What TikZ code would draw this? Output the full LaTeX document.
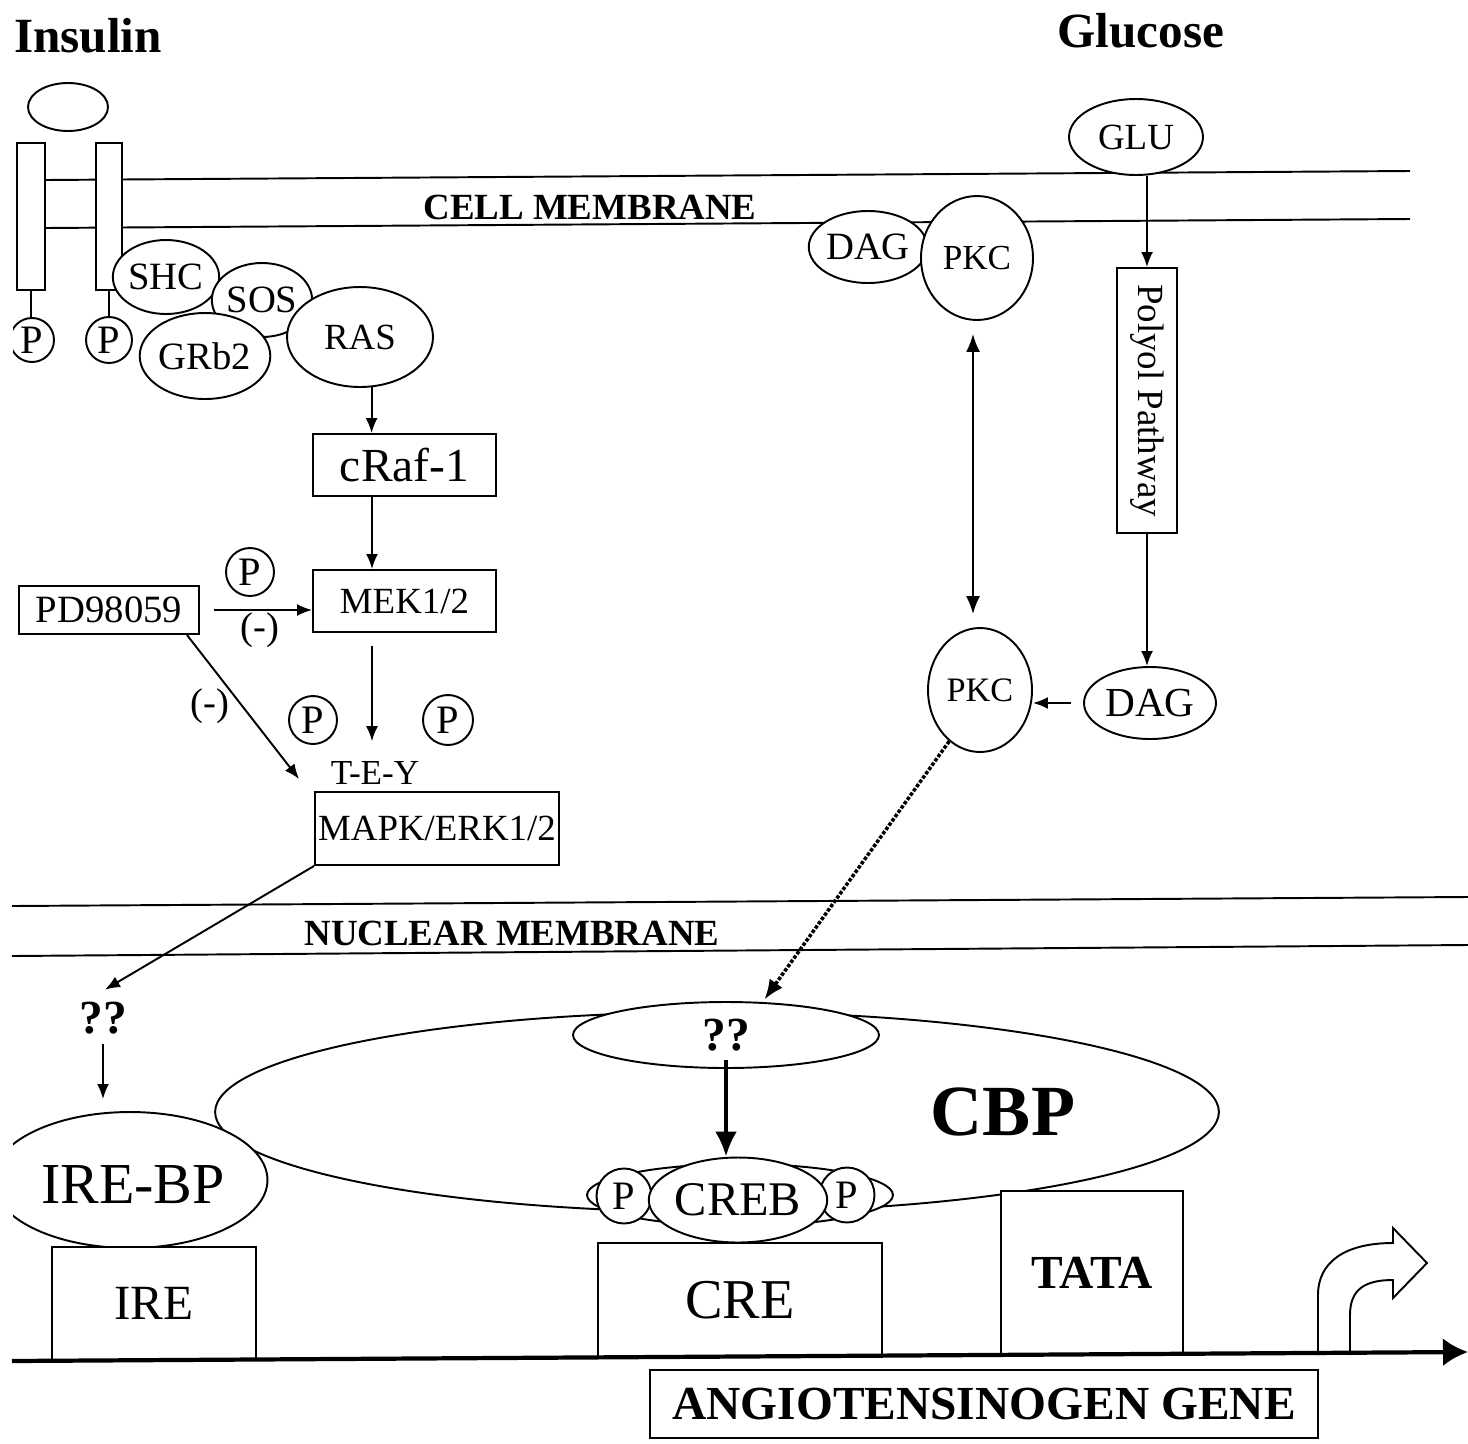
\documentclass[tikz,border=0pt]{standalone}
\usepackage{fontspec}
\setmainfont{Liberation Serif}
\usepackage{tikz}
\usetikzlibrary{shapes,arrows.meta,positioning,calc}
\newcommand{\fsz}[1]{\fontsize{#1}{#1}\selectfont}

\begin{document}
\begin{tikzpicture}[
    x=0.02cm, y=-0.02cm,
    every node/.style={inner sep=0pt, font=\fsz{21}},
    % molecules and boxes
    mol/.style={ellipse, draw, fill=white, line width=1.1pt},
    pbox/.style={rectangle, draw, fill=white, line width=1.1pt},
    phos/.style={circle, draw, fill=white, line width=1.1pt, minimum size=0.96cm, font=\fsz{23}},
    recep/.style={rectangle, draw, fill=white, line width=1.1pt, minimum height=2.94cm},
    title/.style={font=\bfseries\fsz{28}},
    memtext/.style={font=\bfseries\fsz{21}},
    memline/.style={line width=1.1pt},
    % connectors
    arr/.style={-{Latex[length=0.3cm,width=0.24cm]}, line width=1.1pt},
    dblarr/.style={{Latex[length=0.36cm,width=0.28cm]}-{Latex[length=0.36cm,width=0.28cm]}, line width=1.1pt},
    bigarr/.style={-{Latex[length=0.5cm,width=0.44cm]}, line width=2.2pt},
    dotarr/.style={-{Latex[length=0.4cm,width=0.32cm]}, line width=2pt, densely dotted},
    genearr/.style={-{Latex[length=0.5cm,width=0.56cm]}, line width=2.4pt}
]
\useasboundingbox (0,0) rectangle (1468,1444);

% Titles
\node[title] (insulin) at (88,36) {Insulin};
\node[title] (glucose) at (1141,31) {Glucose};

% Membranes
\draw[memline] (45,180) -- (1410,171);
\draw[memline] (45,228) -- (1410,219);
\node[memtext] (cellmem) at (590,207) {CELL MEMBRANE};
\draw[memline] (12,906) -- (1468,897);
\draw[memline] (12,956) -- (1468,945);
\node[memtext] (nucmem) at (512,933) {NUCLEAR MEMBRANE};

% Insulin receptor
\node[mol, minimum width=1.6cm, minimum height=0.96cm] (ligand) at (68,107) {};
\node[recep, minimum width=0.56cm] (rec1) at (31,216.5) {};
\node[recep, minimum width=0.52cm] (rec2) at (109,216.5) {};
\begin{scope}
    \clip (13,0) rectangle (1468,1444);
    \node[phos, minimum size=0.88cm] (p1) at (32,340) {P};
\end{scope}
\node[phos, minimum size=0.92cm] (p2) at (109,340) {P};
\draw[memline] (rec1.south) -- (rec1.south |- p1.north);
\draw[memline] (rec2.south) -- (rec2.south |- p2.north);

% Adaptor proteins
\node[mol, minimum width=1.72cm, minimum height=1.48cm, font=\fsz{22}] (shc) at (166,277) {SHC};
\node[mol, minimum width=1.52cm, minimum height=1.48cm, font=\fsz{22}] (sos) at (262,300) {SOS};
\node[mol, minimum width=2.28cm, minimum height=1.72cm, font=\fsz{22}] (grb2) at (205,356) {GRb2};
\node[mol, minimum width=2.92cm, minimum height=2.0cm] (ras) at (360,337) {RAS};

% MAPK cascade
\coordinate (col) at (372,0);
\node[pbox, minimum width=3.66cm, minimum height=1.24cm, font=\fsz{27}] (craf) at (404.5,465) {cRaf-1};
\node[pbox, minimum width=3.66cm, minimum height=1.24cm] (mek) at (404.5,601) {MEK1/2};
\node[pbox, minimum width=3.6cm, minimum height=0.96cm, font=\fsz{22}] (pd) at (109,610) {PD98059};
\node[phos] (pm) at (250,572) {P};
\node[font=\fsz{22}] (minus1) at (260,630) {(-)};
\node[font=\fsz{22}] (minus2) at (210,706) {(-)};
\node[phos] (pk1) at (313,720) {P};
\node[phos, minimum size=1.0cm] (pk2) at (448,720) {P};
\node[font=\fsz{20}] (tey) at (375,773) {T-E-Y};
\node[pbox, minimum width=4.88cm, minimum height=1.46cm] (mapk) at (437,828.5) {MAPK/ERK1/2};

\draw[arr] (ras.-77) -- (ras.-77 |- craf.north);
\draw[arr] (craf.south -| col) -- (mek.north -| col);
\draw[arr, shorten <=0.26cm, shorten >=0.4cm] (mek.south -| col) -- (tey.north -| col);
\draw[arr, shorten <=0.28cm] (pd.east) -- (pd.east -| mek.west);
\draw[arr] ($(pd.south east)+(-13,0)$) -- ($(mapk.north west)+(-15,-12)$);

% Glucose branch
\node[mol, minimum width=2.68cm, minimum height=1.52cm] (glu) at (1136,137) {GLU};
\node[pbox, minimum width=1.2cm, minimum height=5.3cm] (polybox) at (1147,400.5) {};
\node[rotate=-90] (polytext) at (polybox) {Polyol Pathway};
\node[mol, minimum width=2.64cm, minimum height=1.44cm, font=\fsz{23.5}] (dag2) at (1150,703) {DAG};
\node[mol, minimum width=2.08cm, minimum height=2.48cm, font=\fsz{19.5}] (pkc2) at (980,690) {PKC};
\node[mol, minimum width=2.12cm, minimum height=1.44cm, font=\fsz{22}] (dag1) at (868,247) {DAG};
\node[mol, minimum width=2.24cm, minimum height=2.48cm, font=\fsz{20}] (pkc1) at (977,258) {PKC};
\coordinate (col2) at (973,0);

\draw[arr] (glu.south -| polybox) -- (polybox.north);
\draw[arr] (polybox.south) -- (polybox.south |- dag2.north);
\draw[arr, shorten <=0.24cm] (dag2.west) -- (dag2.west -| pkc2.east);
\draw[dblarr, shorten <=0.26cm, shorten >=0.26cm] (pkc1.south -| col2) -- (pkc2.north -| col2);

% Nucleus
\node[mol, minimum width=20.08cm, minimum height=4.0cm] (cbp) at (717,1112) {};
\node[font=\bfseries\fsz{41}] (cbptext) at (1003,1112) {CBP};
\node[mol, minimum width=6.12cm, minimum height=1.32cm, font=\bfseries\fsz{27}] (qq2) at (726,1035) {??};
\begin{scope}
    \clip (13,0) rectangle (1468,1444);
    \node[mol, minimum width=5.5cm, minimum height=2.72cm] (irebp) at (130,1180) {};
\end{scope}
\node[font=\fsz{33}] (irebptext) at (133,1185) {IRE-BP};
\node[font=\bfseries\fsz{27}] (qq1) at (103,1018) {??};

% CREB complex
\node[mol, minimum width=6.12cm, minimum height=1.24cm] (crebring) at (740,1195) {};
\node[phos, minimum size=1.1cm] (cp1) at (624,1196) {P};
\node[phos, minimum size=1.1cm] (cp2) at (847,1195) {P};
\node[mol, minimum width=3.46cm, minimum height=1.7cm, font=\fsz{27.5}] (creb) at (738,1200) {CREB};

% Promoter elements
\node[pbox, minimum width=4.08cm, minimum height=2.26cm, font=\fsz{28}] (ire) at (154,1303.5) {IRE};
\node[pbox, minimum width=5.68cm, minimum height=2.28cm, font=\fsz{32}] (cre) at (740,1300) {CRE};
\node[pbox, minimum width=3.64cm, minimum height=3.28cm, font=\bfseries\fsz{27}] (tata) at (1092,1273) {TATA};
\node[pbox, minimum width=13.36cm, minimum height=1.36cm, font=\bfseries\fsz{27}] (gene) at (984,1404) {ANGIOTENSINOGEN GENE};

\draw[arr] (mapk.south west) -- ($(qq1.north)+(2,-12)$);
\draw[arr, shorten <=0.2cm, shorten >=0.24cm] (qq1.south) -- (qq1.south |- irebp.north);
\draw[bigarr, shorten <=0.5cm] (qq2.center) -- (qq2.center |- creb.north);
\draw[dotarr, shorten >=0.06cm] (pkc2.239) -- (qq2.42);

% Transcription start and gene line
\draw[line width=1.1pt] (1318,1355) -- (1318,1295) .. controls (1318,1262) and (1345,1243) .. (1393,1243)
    -- (1393,1228) -- (1427,1263) -- (1393,1298) -- (1393,1280)
    .. controls (1364,1280) and (1350,1290) .. (1350,1315) -- (1350,1355);
\coordinate (genestart) at (12,1361);
\coordinate (geneend) at (1468,1352);
\draw[genearr] (genestart) -- (geneend);

\end{tikzpicture}
\end{document}
